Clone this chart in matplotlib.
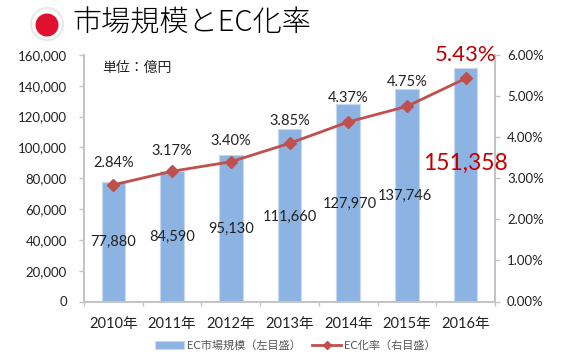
import numpy as np
import matplotlib
matplotlib.use('Agg')
import matplotlib.pyplot as plt
from matplotlib.patches import Circle

plt.rcParams['font.family'] = ['Lato', 'Noto Sans CJK JP', 'DejaVu Sans']

# Data
years = ['2010年', '2011年', '2012年', '2013年', '2014年', '2015年', '2016年']
market = [77880, 84590, 95130, 111660, 127970, 137746, 151358]
market_labels = ['77,880', '84,590', '95,130', '111,660', '127,970', '137,746', '151,358']
rate = [2.84, 3.17, 3.40, 3.85, 4.37, 4.75, 5.43]
rate_labels = ['2.84%', '3.17%', '3.40%', '3.85%', '4.37%', '4.75%', '5.43%']
left_ticks = [0, 20000, 40000, 60000, 80000, 100000, 120000, 140000, 160000]
right_ticks = [0, 1, 2, 3, 4, 5, 6]

W, H = 569, 358
fig = plt.figure(figsize=(W / 100, H / 100), dpi=100)
ax = fig.add_axes([84 / W, 1 - 301.5 / H, 411 / W, 246.5 / H])
ax2 = ax.twinx()

x = np.arange(len(years))
grey = '#c4c4c4'
txt = '#222222'
red = '#c0504d'
dark_red = '#c00000'

# Bars and line
bars = ax.bar(x, market, width=0.4, color='#8db3e2', edgecolor='#c6d9f1', linewidth=0.8,
              label='EC市場規模（左目盛）')
line, = ax2.plot(x, rate, color=red, linewidth=2, marker='D', markersize=6.5,
                 label='EC化率（右目盛）')

ax.set_xlim(-0.5, 6.5)
ax.set_ylim(0, 160000)
ax2.set_ylim(0, 6)
ax.set_xticks(np.arange(-0.5, 7, 1))
ax.set_xticklabels([])
ax.set_xticks(x, years, minor=True)
ax.tick_params(axis='x', which='major', length=3, color=grey, width=1)
ax.tick_params(axis='x', which='minor', length=0, labelsize=10.5, labelcolor=txt, pad=11)
ax.set_yticks(left_ticks)
ax.set_yticklabels([f'{v:,}' for v in left_ticks])
ax.tick_params(axis='y', length=3.6, color=grey, width=1, labelsize=9.5, labelcolor=txt, pad=8.6)
ax2.set_yticks(right_ticks)
ax2.set_yticklabels([f'{v:.2f}%' for v in right_ticks])
ax2.tick_params(axis='y', length=3.6, color=grey, width=1, labelsize=9.5, labelcolor=txt, pad=5)

for a in (ax, ax2):
    a.spines['top'].set_visible(False)
    for s in ('left', 'right', 'bottom'):
        a.spines[s].set_color(grey)
        a.spines[s].set_linewidth(1.3)

# Data labels, placed by hand as in the original
market_label_y = [242, 237, 229, 217, 204, 196, 163]
rate_label_y = [163, 151, 141, 121, 98, 82, 55]
market_label_dx = [0, 0, 0, 0, 0.03, -0.03, 0]
for i in range(7):
    big = i == 6
    ax2.text(x[i] + market_label_dx[i], (301.5 - market_label_y[i]) / 246.5 * 160000, market_labels[i],
             transform=ax.transData, ha='center', va='center', fontsize=16.5 if big else 10.5,
             color=dark_red if big else txt)
    ax2.text(x[i], (301.5 - rate_label_y[i]) / 246.5 * 160000, rate_labels[i],
             transform=ax.transData, ha='center', va='center', fontsize=16 if big else 10.5,
             color=dark_red if big else txt)
ax.text(0.045, 0.95, '単位：億円', transform=ax.transAxes, fontsize=10, color=txt, va='center')

# Legend
fig.legend(handles=[bars, line], loc='center', bbox_to_anchor=(295.5 / W, 1 - 345 / H), ncol=2,
           frameon=False, fontsize=8, labelcolor='#555555', handlelength=2.6, columnspacing=1.0,
           handletextpad=0.3, borderpad=0)
fig.legends[0].legend_handles[1].set_markersize(4)

# Title with the flag mark
over = fig.add_axes([0, 0, 1, 1], facecolor='none')
over.set_xlim(0, W)
over.set_ylim(H, 0)
over.axis('off')
over.add_patch(Circle((47, 24), 16, facecolor='white', edgecolor='#e8e8e8', linewidth=1.5))
over.add_patch(Circle((47, 25), 11.5, facecolor='#e0102f', edgecolor='none'))
over.text(72, 23.5, '市場規模とEC化率', fontsize=21, color='black', va='center', ha='left',
          family=['Noto Sans CJK JP'], fontweight='light')

fig.savefig('out.png', dpi=100)
